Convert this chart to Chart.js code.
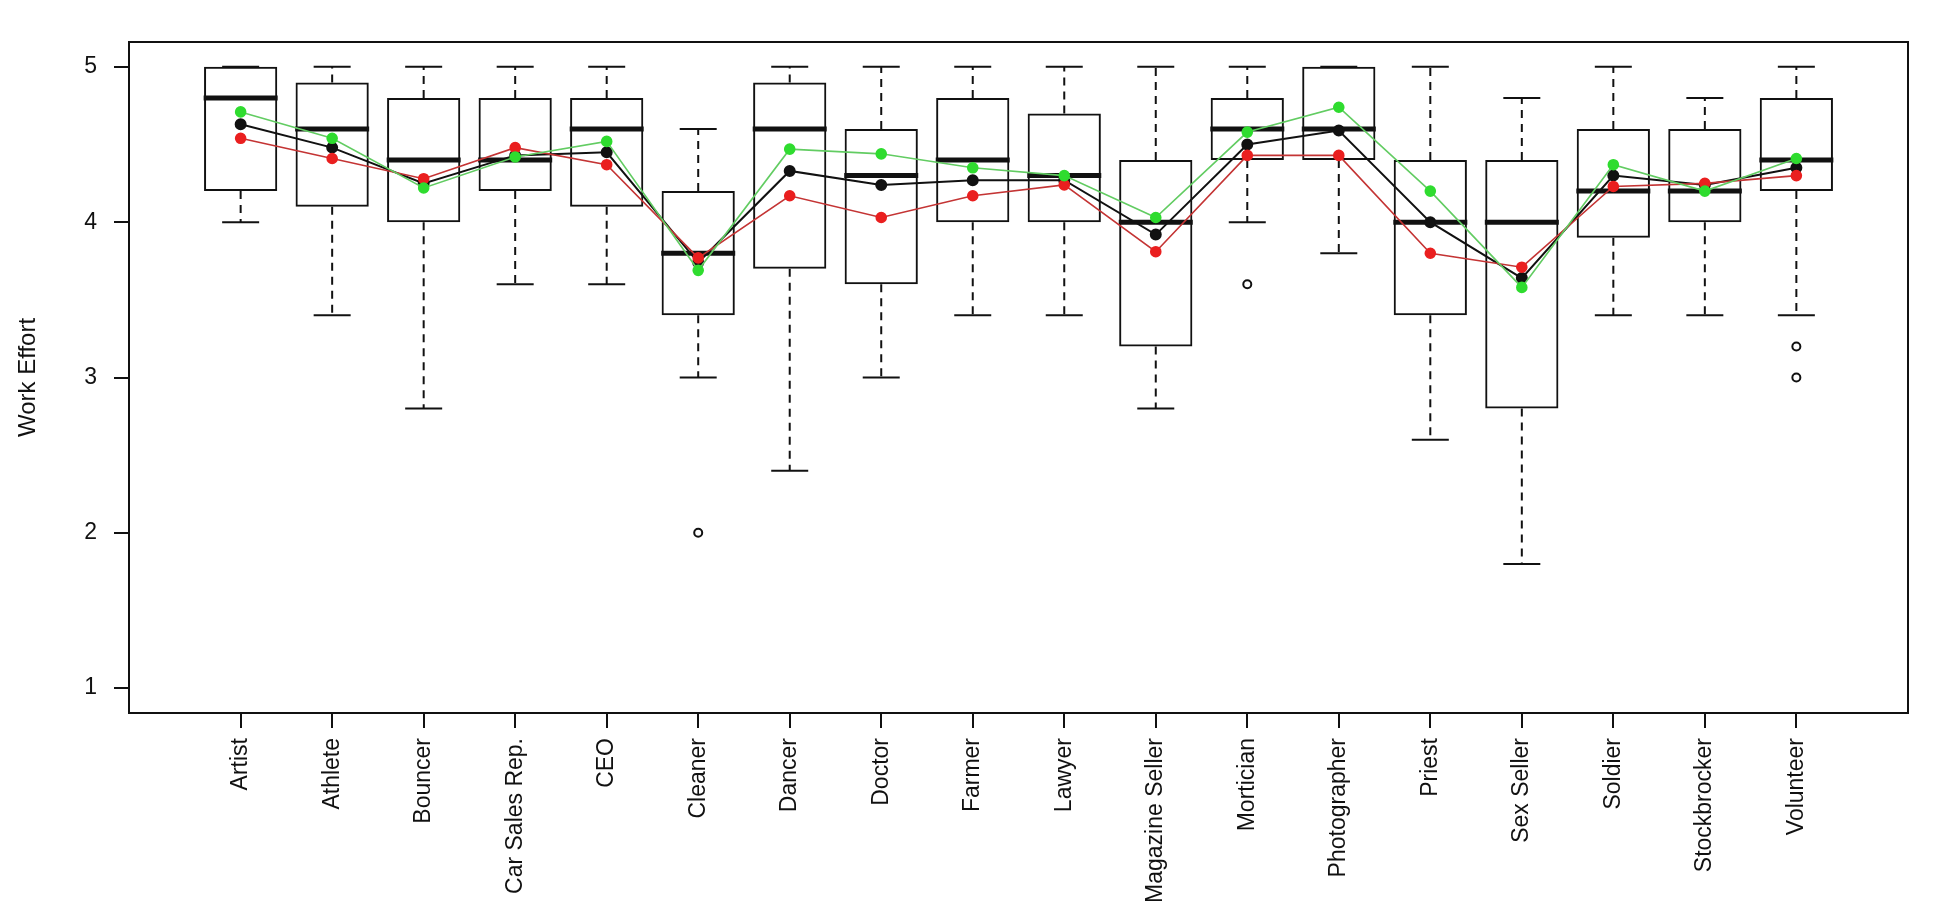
<!DOCTYPE html>
<html>
<head>
<meta charset="utf-8">
<script src="https://cdn.jsdelivr.net/npm/chart.js@4.4.1/dist/chart.umd.min.js"></script>
<style>
  html, body { margin: 0; padding: 0; background: #fff; }
  #wrap { width: 1950px; height: 922px; position: relative; }
</style>
</head>
<body>
<div id="wrap"><canvas id="grafico"></canvas></div>
<script>
// Categorías del eje x
const categorias = ['Artist', 'Athlete', 'Bouncer', 'Car Sales Rep.', 'CEO', 'Cleaner', 'Dancer', 'Doctor', 'Farmer',
  'Lawyer', 'Magazine Seller', 'Mortician', 'Photographer', 'Priest', 'Sex Seller', 'Soldier', 'Stockbrocker', 'Volunteer'];

// Resumen de cada caja (bigotes, cuartiles, mediana)
const bigoteMin = [4.0, 3.4, 2.8, 3.6, 3.6, 3.0, 2.4, 3.0, 3.4, 3.4, 2.8, 4.0, 3.8, 2.6, 1.8, 3.4, 3.4, 3.4];
const cuartil1  = [4.2, 4.1, 4.0, 4.2, 4.1, 3.4, 3.7, 3.6, 4.0, 4.0, 3.2, 4.4, 4.4, 3.4, 2.8, 3.9, 4.0, 4.2];
const mediana   = [4.8, 4.6, 4.4, 4.4, 4.6, 3.8, 4.6, 4.3, 4.4, 4.3, 4.0, 4.6, 4.6, 4.0, 4.0, 4.2, 4.2, 4.4];
const cuartil3  = [5.0, 4.9, 4.8, 4.8, 4.8, 4.2, 4.9, 4.6, 4.8, 4.7, 4.4, 4.8, 5.0, 4.4, 4.4, 4.6, 4.6, 4.8];
const bigoteMax = [5.0, 5.0, 5.0, 5.0, 5.0, 4.6, 5.0, 5.0, 5.0, 5.0, 5.0, 5.0, 5.0, 5.0, 4.8, 5.0, 4.8, 5.0];

// Valores atípicos
const atipicoCat = ['Cleaner', 'Mortician', 'Volunteer', 'Volunteer'];
const atipicoVal = [2.0, 3.6, 3.2, 3.0];

// Medias de los tres grupos
const mediaNegra = [4.63, 4.48, 4.25, 4.43, 4.45, 3.74, 4.33, 4.24, 4.27, 4.27, 3.92, 4.50, 4.59, 4.00, 3.64, 4.30, 4.24, 4.35];
const mediaRoja  = [4.54, 4.41, 4.28, 4.48, 4.37, 3.77, 4.17, 4.03, 4.17, 4.24, 3.81, 4.43, 4.43, 3.80, 3.71, 4.23, 4.25, 4.30];
const mediaVerde = [4.71, 4.54, 4.22, 4.42, 4.52, 3.69, 4.47, 4.44, 4.35, 4.30, 4.03, 4.58, 4.74, 4.20, 3.58, 4.37, 4.20, 4.41];

// Marcas del eje y
const marcasY = [1, 2, 3, 4, 5];

const negro = '#111111';
const fuente = 'Liberation Sans, Arial, sans-serif';

// Puntos de cada serie en x = 1..18
const aPuntos = arr => arr.map((v, i) => ({ x: i + 1, y: v }));

// Bigotes: segmentos verticales separados por huecos
const bigotes = [];
categorias.forEach((c, i) => {
  bigotes.push({ x: i + 1, y: cuartil3[i] }, { x: i + 1, y: bigoteMax[i] }, { x: i + 1, y: null });
  bigotes.push({ x: i + 1, y: cuartil1[i] }, { x: i + 1, y: bigoteMin[i] }, { x: i + 1, y: null });
});

const topes = [];
categorias.forEach((c, i) => {
  topes.push({ x: i + 1, y: bigoteMax[i] }, { x: i + 1, y: bigoteMin[i] });
});

// Marco alrededor del área del gráfico (como box() en R)
const marco = {
  id: 'marco',
  afterDatasetsDraw(chart) {
    const { ctx, chartArea: a } = chart;
    ctx.save();
    ctx.strokeStyle = negro;
    ctx.lineWidth = 2;
    ctx.strokeRect(a.left, a.top, a.right - a.left, a.bottom - a.top);
    ctx.restore();
  }
};

const ctx = document.getElementById('grafico').getContext('2d');
new Chart(ctx, {
  type: 'bar',
  data: {
    datasets: [
      {
        type: 'line',
        label: 'verde',
        data: aPuntos(mediaVerde),
        borderColor: '#62cc62',
        borderWidth: 1.6,
        pointBackgroundColor: '#2fdc2f',
        pointBorderColor: '#2fdc2f',
        pointRadius: 5,
        order: 1
      },
      {
        type: 'line',
        label: 'roja',
        data: aPuntos(mediaRoja),
        borderColor: '#c43434',
        borderWidth: 1.6,
        pointBackgroundColor: '#ea1f1f',
        pointBorderColor: '#ea1f1f',
        pointRadius: 5,
        order: 2
      },
      {
        type: 'line',
        label: 'negra',
        data: aPuntos(mediaNegra),
        borderColor: negro,
        borderWidth: 2,
        pointBackgroundColor: negro,
        pointBorderColor: negro,
        pointRadius: 5,
        order: 3
      },
      {
        type: 'scatter',
        label: 'atípicos',
        data: atipicoCat.map((c, i) => ({ x: categorias.indexOf(c) + 1, y: atipicoVal[i] })),
        pointStyle: 'circle',
        pointRadius: 4,
        pointBorderWidth: 2,
        pointBorderColor: negro,
        pointBackgroundColor: '#ffffff',
        order: 4
      },
      {
        type: 'scatter',
        label: 'medianas',
        data: aPuntos(mediana),
        pointStyle: 'line',
        pointRadius: 37,
        pointBorderWidth: 5,
        pointBorderColor: negro,
        order: 5
      },
      {
        type: 'scatter',
        label: 'topes',
        data: topes,
        pointStyle: 'line',
        pointRadius: 18.5,
        pointBorderWidth: 2,
        pointBorderColor: negro,
        order: 6
      },
      {
        type: 'line',
        label: 'bigotes',
        data: bigotes,
        borderColor: negro,
        borderWidth: 2,
        borderDash: [8, 6],
        pointRadius: 0,
        spanGaps: false,
        order: 7
      },
      {
        type: 'bar',
        label: 'cajas',
        data: categorias.map((c, i) => ({ x: i + 1, y: [cuartil1[i], cuartil3[i]] })),
        backgroundColor: 'rgba(0,0,0,0)',
        borderColor: negro,
        borderWidth: 2,
        borderSkipped: false,
        categoryPercentage: 1.0,
        barPercentage: 0.8,
        order: 8
      }
    ]
  },
  options: {
    responsive: true,
    maintainAspectRatio: false,
    animation: false,
    events: [],
    layout: { padding: { left: 0, top: 21, right: 15, bottom: 0 } },
    plugins: {
      legend: { display: false },
      tooltip: { enabled: false }
    },
    scales: {
      x: {
        type: 'linear',
        min: -0.22,
        max: 19.22,
        offset: false,
        afterBuildTicks: scale => { scale.ticks = categorias.map((c, i) => ({ value: i + 1 })); },
        afterFit: scale => { scale.height = 209; },
        grid: { offset: false, drawOnChartArea: false, drawTicks: true, tickLength: 15, color: negro, lineWidth: 2 },
        border: { display: false },
        ticks: {
          autoSkip: false,
          maxRotation: 90,
          minRotation: 90,
          padding: 10,
          color: negro,
          font: { family: fuente, size: 23 },
          callback: v => categorias[v - 1]
        }
      },
      y: {
        min: 0.84,
        max: 5.16,
        afterBuildTicks: scale => { scale.ticks = marcasY.map(v => ({ value: v })); },
        afterFit: scale => { scale.width = 129; },
        grid: { drawOnChartArea: false, drawTicks: true, tickLength: 15, color: negro, lineWidth: 2 },
        border: { display: false },
        ticks: {
          padding: 17,
          color: negro,
          font: { family: fuente, size: 23 },
          callback: v => String(v)
        },
        title: {
          display: true,
          text: 'Work Effort',
          color: negro,
          font: { family: fuente, size: 24 },
          padding: { top: 14, bottom: 0 }
        }
      }
    }
  },
  plugins: [marco]
});
</script>
</body>
</html>
